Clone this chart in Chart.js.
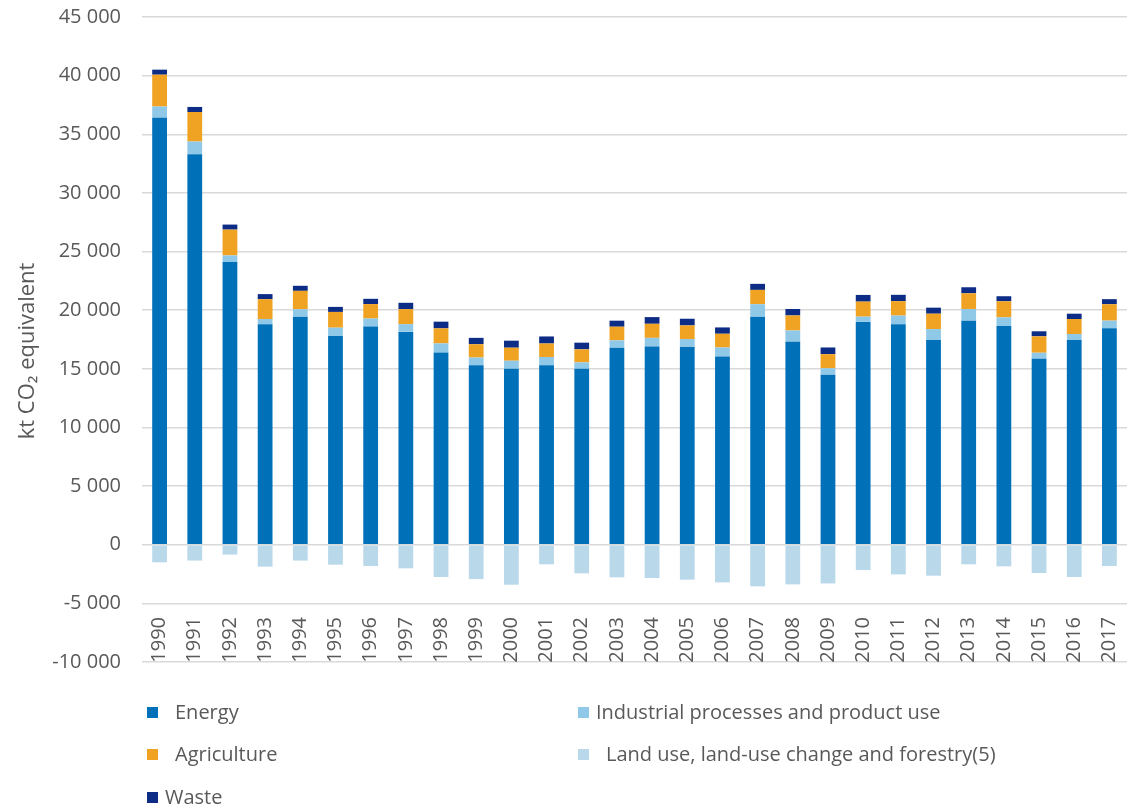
<!DOCTYPE html>
<html>
<head>
<meta charset="utf-8">
<script src="https://cdn.jsdelivr.net/npm/chart.js@4"></script>
<style>
  html, body { margin: 0; padding: 0; background: #ffffff; }
  #wrap { position: relative; width: 1127px; height: 807px; overflow: hidden; }
  #c { position: absolute; left: 0; top: 0; }
  .lg { position: absolute; font-family: "Open Sans", sans-serif; font-size: 20px; color: #595959; white-space: nowrap; line-height: 24px; }
  .sw { position: absolute; width: 11px; height: 11px; }
</style>
</head>
<body>
<div id="wrap">
  <canvas id="c" width="1127" height="807"></canvas>
  <div id="legend"></div>
</div>
<script>
const years = ['1990','1991','1992','1993','1994','1995','1996','1997','1998','1999','2000','2001','2002','2003','2004','2005','2006','2007','2008','2009','2010','2011','2012','2013','2014','2015','2016','2017'];
const energy = [36400, 33300, 24100, 18800, 19450, 17800, 18600, 18150, 16400, 15300, 15000, 15300, 15000, 16800, 16900, 16850, 16050, 19450, 17300, 14500, 19000, 18800, 17450, 19100, 18650, 15850, 17450, 18450];
const industrial = [970, 1080, 570, 450, 630, 710, 690, 660, 770, 660, 690, 710, 550, 630, 740, 690, 770, 1060, 970, 550, 450, 740, 940, 1000, 740, 520, 520, 660];
const agriculture = [2710, 2520, 2200, 1690, 1570, 1340, 1230, 1280, 1280, 1140, 1110, 1150, 1110, 1160, 1200, 1160, 1170, 1220, 1280, 1200, 1280, 1230, 1310, 1340, 1370, 1400, 1280, 1400];
const waste = [430, 430, 430, 430, 430, 430, 450, 540, 570, 540, 600, 600, 570, 515, 570, 570, 540, 515, 550, 570, 570, 540, 515, 515, 430, 430, 450, 430];
const lulucf = [-1500, -1350, -840, -1870, -1350, -1700, -1810, -2010, -2750, -2930, -3410, -1670, -2440, -2780, -2840, -2980, -3210, -3550, -3380, -3300, -2160, -2530, -2640, -1670, -1840, -2410, -2750, -1810];

const seriesNames = ['Energy', 'Industrial processes and product use', 'Agriculture', 'Waste', 'Land use, land-use change and forestry(5)'];
const seriesColors = ['#0070b8', '#90c8e8', '#f0a322', '#0d2c86', '#b9d8ea'];
const yAxisTitle = 'kt CO\u2082 equivalent';
const yMin = -10000, yMax = 45000, yStep = 5000;

const FONT = '"Open Sans", sans-serif';
const GREY = '#595959';
const TICK_SIZE = 20;

function fmt(v) {
  const neg = v < 0;
  const s = Math.abs(v).toString().replace(/\B(?=(\d{3})+(?!\d))/g, ' ');
  return (neg ? '-' : '') + s;
}

const seriesData = [energy, industrial, agriculture, waste, lulucf];
const datasets = seriesNames.map((n, i) => ({
  label: n,
  data: seriesData[i],
  backgroundColor: seriesColors[i],
  borderWidth: 0,
  categoryPercentage: 1.0,
  barPercentage: 0.42
}));

new Chart(document.getElementById('c'), {
  type: 'bar',
  data: { labels: years, datasets: datasets },
  options: {
    responsive: false,
    devicePixelRatio: 1,
    animation: false,
    layout: { padding: { left: 0, right: 0, top: 17, bottom: 145 } },
    plugins: { legend: { display: false }, tooltip: { enabled: false } },
    scales: {
      x: {
        stacked: true,
        grid: { display: false, drawTicks: false },
        border: { display: false },
        ticks: {
          autoSkip: false, minRotation: 90, maxRotation: 90,
          mirror: true,
          padding: 45,
          labelOffset: TICK_SIZE * 1.2,
          color: GREY, font: { family: FONT, size: TICK_SIZE }
        },
        afterFit: (s) => { s.height = 0; s.paddingLeft = 0; s.paddingRight = 0; s.paddingTop = 0; s.paddingBottom = 0; }
      },
      y: {
        stacked: true,
        min: yMin, max: yMax,
        grid: { color: '#d9d9d9', lineWidth: 1.5, drawTicks: false },
        border: { display: false },
        ticks: {
          stepSize: yStep, padding: 21,
          color: GREY, font: { family: FONT, size: TICK_SIZE },
          callback: (v) => fmt(v)
        },
        title: {
          display: true, text: yAxisTitle + '\u00a0\u00a0\u00a0\u00a0', color: GREY,
          font: { family: FONT, size: 22 },
          padding: { top: 15, bottom: 0 }
        },
        afterFit: (s) => { s.width = 142; s.paddingTop = 0; s.paddingBottom = 0; }
      }
    }
  }
});

// HTML legend built from series names/colours
const legendPos = [
  { sx: 147, tx: 175, y: 712 },
  { sx: 578, tx: 596, y: 712 },
  { sx: 147, tx: 175, y: 754 },
  { sx: 147, tx: 165, y: 797 },
  { sx: 578, tx: 606, y: 754 }
];
const lg = document.getElementById('legend');
seriesNames.forEach((n, i) => {
  const p = legendPos[i];
  const sw = document.createElement('div');
  sw.className = 'sw';
  sw.style.left = p.sx + 'px';
  sw.style.top = (p.y - 5) + 'px';
  sw.style.background = seriesColors[i];
  lg.appendChild(sw);
  const t = document.createElement('div');
  t.className = 'lg';
  t.style.left = p.tx + 'px';
  t.style.top = (p.y - 12) + 'px';
  t.textContent = n;
  lg.appendChild(t);
});
</script>
</body>
</html>
